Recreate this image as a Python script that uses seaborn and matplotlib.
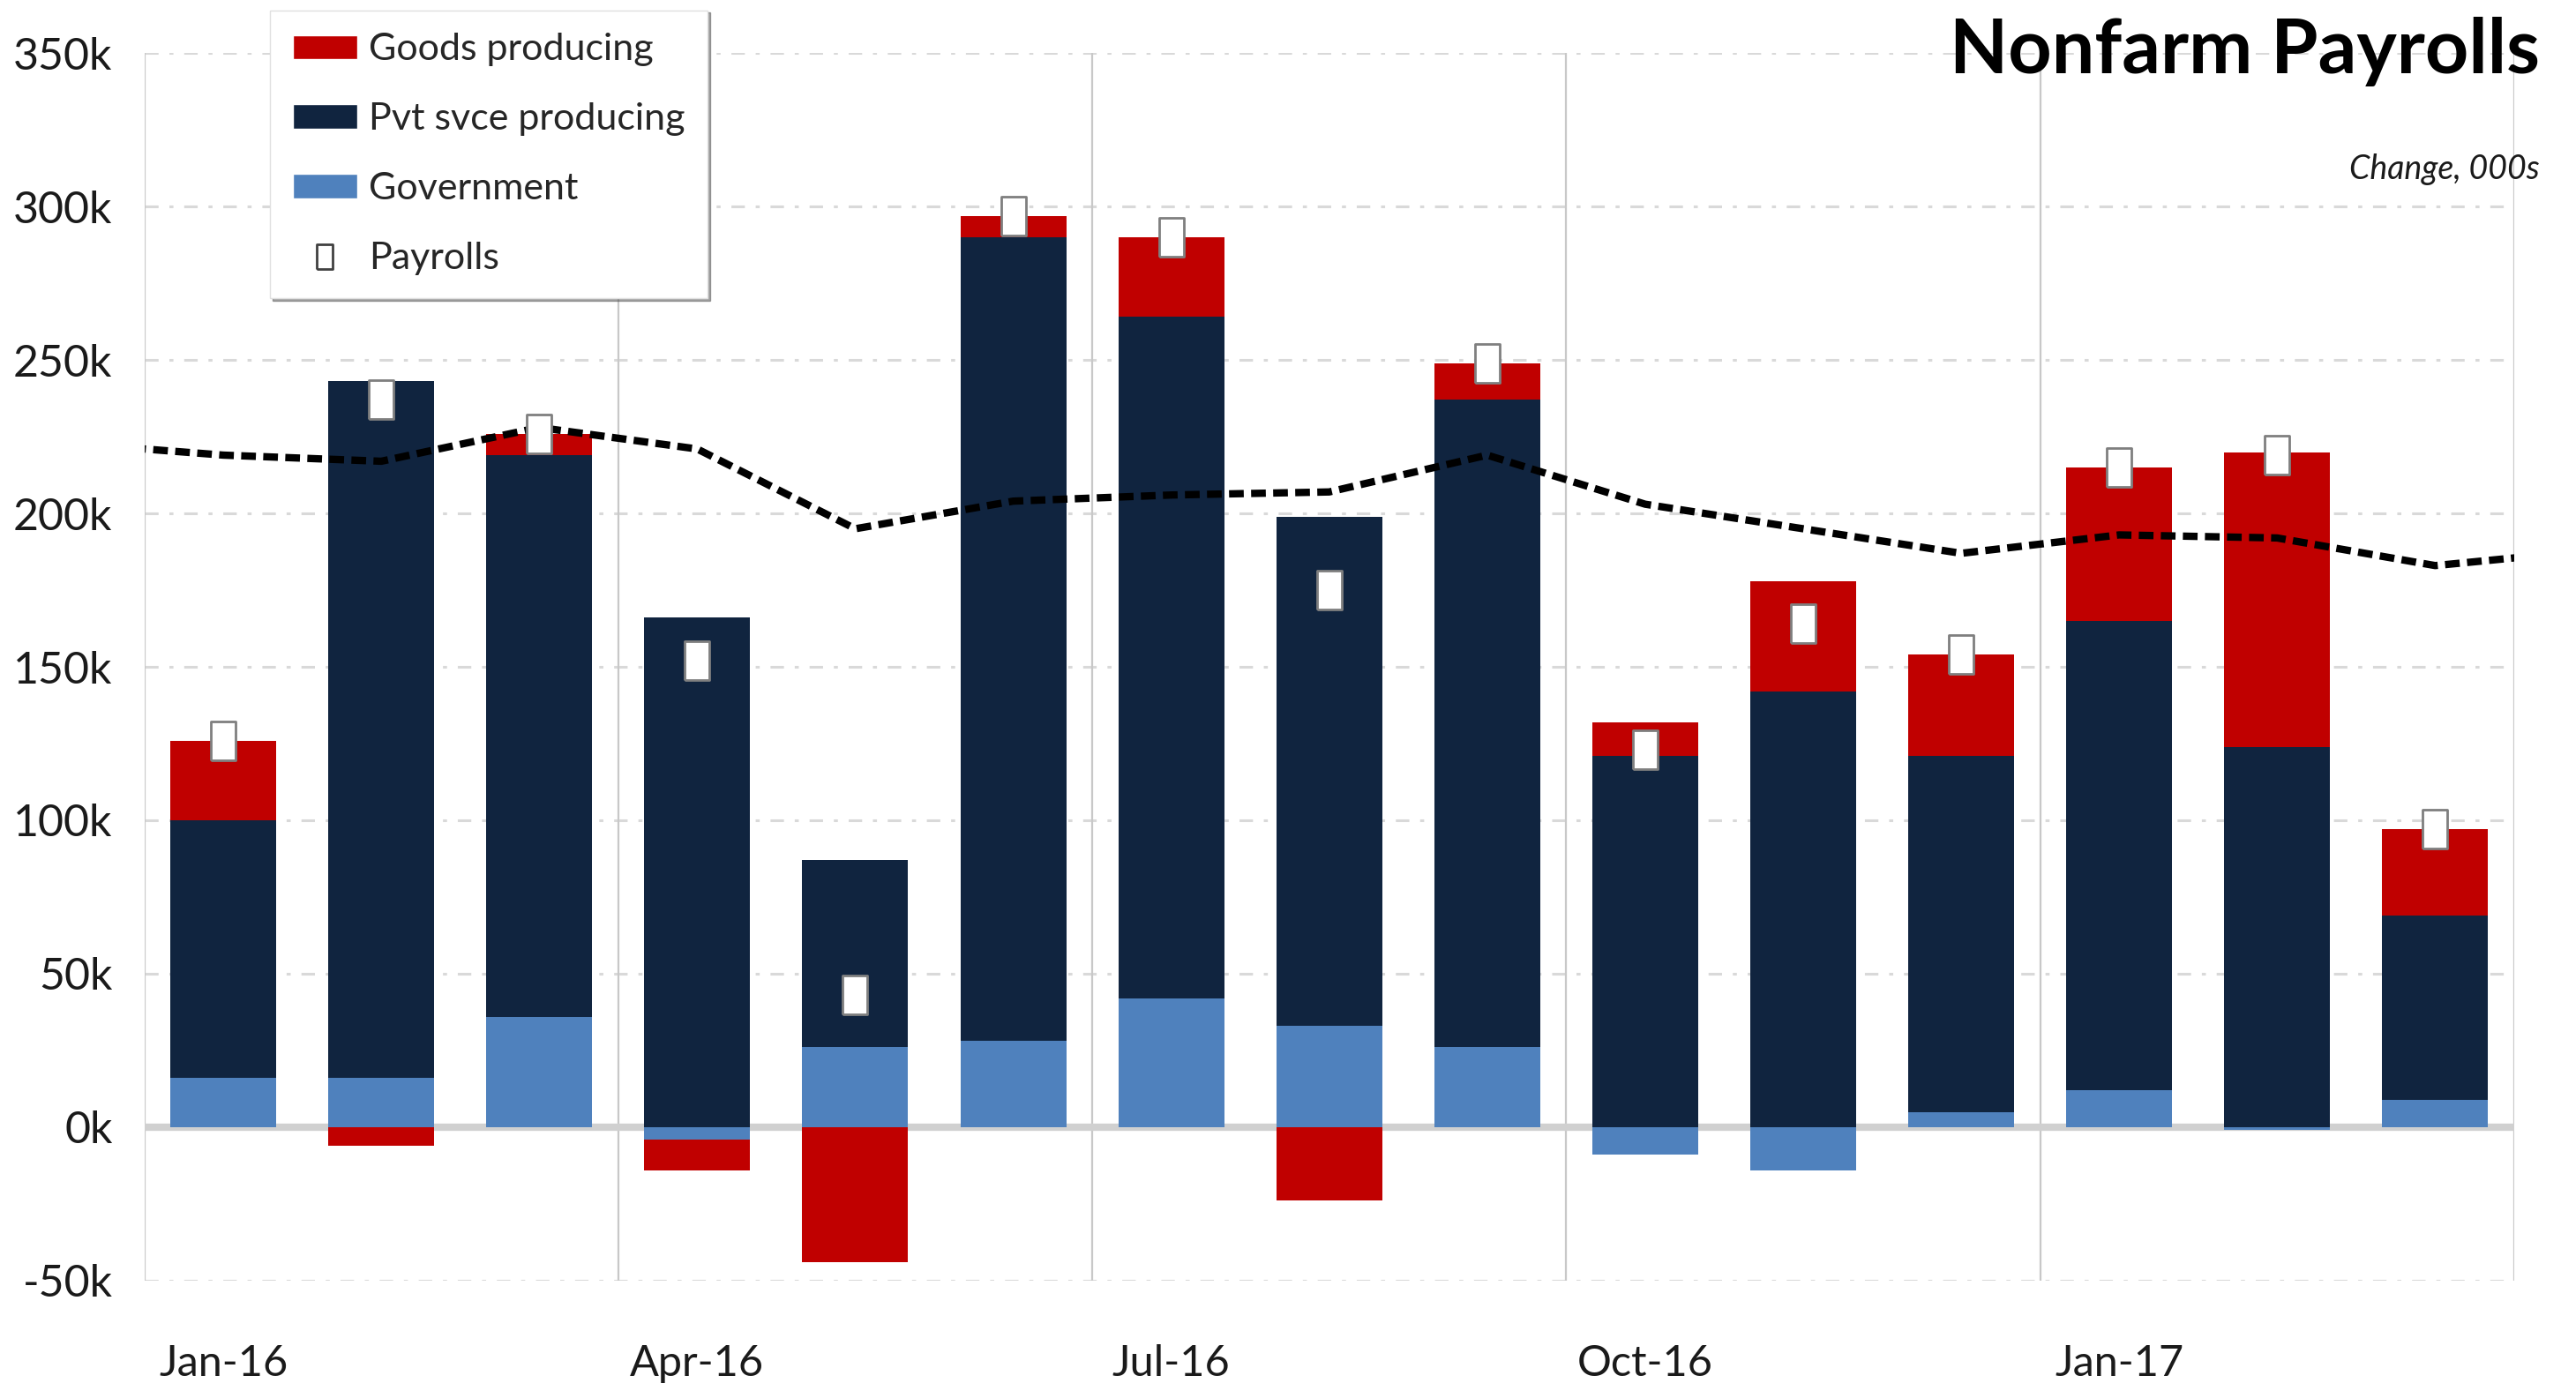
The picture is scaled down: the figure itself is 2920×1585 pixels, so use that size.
import matplotlib.pyplot as plt
import seaborn as sns
import numpy as np
import pandas as pd
from matplotlib.patches import Patch
from matplotlib.lines import Line2D

# monthly change, thousands
months = ['Jan-16', 'Feb-16', 'Mar-16', 'Apr-16', 'May-16', 'Jun-16', 'Jul-16', 'Aug-16',
          'Sep-16', 'Oct-16', 'Nov-16', 'Dec-16', 'Jan-17', 'Feb-17', 'Mar-17']
government = [16, 16, 36, -4, 26, 28, 42, 33, 26, -9, -14, 5, 12, -1, 9]
pvt_services = [84, 227, 183, 166, 61, 262, 222, 166, 211, 121, 142, 116, 153, 124, 60]
goods = [26, -6, 7, -10, -44, 7, 26, -24, 12, 11, 36, 33, 50, 96, 28]
payrolls = [126, 237, 226, 152, 43, 297, 290, 175, 249, 123, 164, 154, 215, 219, 97]

# smoothed trend, one value per month incl. Dec-15 and Apr-17 (clipped at the edges)
trend_months = ['Dec-15'] + months + ['Apr-17']
trend = [223, 219, 217, 228, 221, 195, 204, 206, 207, 219, 203, 195, 187, 193, 192, 183, 188]

quarter_labels = ['Jan-16', 'Apr-16', 'Jul-16', 'Oct-16', 'Jan-17']
yticks = [-50, 0, 50, 100, 150, 200, 250, 300, 350]

RED = '#C00000'
NAVY = '#10243F'
BLUE = '#4F81BD'
GRID = '#D9D9D9'

sns.set_style('white')
plt.rcParams['font.family'] = ['Lato', 'DejaVu Sans']

fig, ax = plt.subplots(figsize=(29.2, 15.85), dpi=100)
fig.subplots_adjust(left=0.056, right=0.976, top=0.962, bottom=0.084)

df = pd.DataFrame({'month': months, 'Government': government,
                   'Pvt svce producing': pvt_services, 'Goods producing': goods})

# stack positives upward and negatives downward
pos_base = np.zeros(len(months))
neg_base = np.zeros(len(months))
for col, color in [('Government', BLUE), ('Pvt svce producing', NAVY), ('Goods producing', RED)]:
    vals = df[col].to_numpy(dtype=float)
    bottom = np.where(vals >= 0, pos_base, neg_base)
    sns.barplot(x=df['month'], y=vals, order=months, bottom=bottom, color=color,
                saturation=1, width=0.67, errorbar=None, edgecolor='none',
                zorder=3, ax=ax)
    pos_base += np.clip(vals, 0, None)
    neg_base += np.clip(vals, None, 0)

x_trend = np.arange(-1, len(months) + 1)
sns.lineplot(x=x_trend, y=trend, color='black', linewidth=6,
             linestyle=(0, (2.0, 1.0)), zorder=4, ax=ax)

box = [(-0.32, -0.5), (0.32, -0.5), (0.32, 0.5), (-0.32, 0.5), (-0.32, -0.5)]
sns.scatterplot(x=np.arange(len(months)), y=payrolls, marker=box, s=1000,
                color='white', edgecolor='#7F7F7F', linewidth=2, zorder=5, ax=ax)

# grid
for y in yticks:
    if y == 0:
        ax.axhline(y, color='#D0D0D0', lw=6, zorder=2)
    else:
        ax.axhline(y, color=GRID, lw=2.2, linestyle=(0, (5, 4, 1.5, 4)), zorder=1)
for xv in [-0.5, 2.5, 5.5, 8.5, 11.5, 14.5]:
    ax.axvline(xv, color='#C8C8C8', lw=1.6, zorder=1)

ax.set_xlim(-0.5, 14.5)
ax.set_ylim(-50, 350)
ax.set_yticks(yticks)
ax.set_yticklabels([f'{v}k' for v in yticks])
ax.set_xticks([0, 3, 6, 9, 12])
ax.set_xticklabels(quarter_labels)
ax.set_xlabel('')
ax.set_ylabel('')
ax.tick_params(axis='y', length=0, pad=26, labelsize=36, labelcolor='#1a1a1a')
ax.tick_params(axis='x', length=0, pad=52, labelsize=35, labelcolor='#1a1a1a')
sns.despine(ax=ax, left=True, bottom=True)

handles = [Patch(facecolor=RED, label='Goods producing'),
           Patch(facecolor=NAVY, label='Pvt svce producing'),
           Patch(facecolor=BLUE, label='Government'),
           Line2D([], [], marker=box, markersize=20, markerfacecolor='white',
                  markeredgecolor='#404040', markeredgewidth=2, linestyle='none',
                  label='Payrolls')]
leg = ax.legend(handles=handles, loc='upper left', bbox_to_anchor=(0.053, 1.035),
                fontsize=31, frameon=True, fancybox=False, shadow=True,
                edgecolor='#E0E0E0', framealpha=1, borderpad=0.6, labelspacing=0.95,
                handlelength=1.7, handleheight=0.6, handletextpad=0.3, borderaxespad=0)
leg.set_zorder(10)

fig.text(0.986, 0.988, 'Nonfarm Payrolls', ha='right', va='top', fontsize=62,
         fontweight='bold', color='black')
fig.text(0.986, 0.879, 'Change, 000s', ha='right', va='center', fontsize=27,
         style='italic', color='#1a1a1a')

fig.savefig('out.png', dpi=100)
